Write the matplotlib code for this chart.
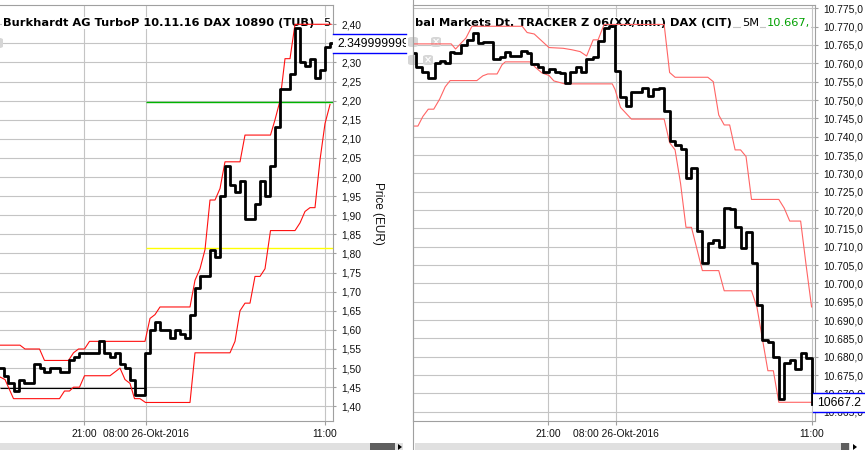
import matplotlib
matplotlib.use("Agg")
import matplotlib.pyplot as plt
from matplotlib.patches import Rectangle, FancyBboxPatch, Polygon
from matplotlib.lines import Line2D

# x axis: 5-minute bars, 0 = 08:00 on 26 Oct 2016
time_ticks = [-12.2, 0.2, 36.0]
time_labels = ["21:00", "08:00 26-Okt-2016", "11:00"]

# left chart: turbo certificate (EUR)
tub_t = [-30, -28.3, -27.5, -26.3, -25.3, -24.3, -22.2, -21.1, -20.2, -19.1,
         -17.1, -15.2, -14.3, -13.3, -9.2, -8.2, -7.0, -6.0, -5.1, -4.1,
         -3.1, -2.0, 0, 1, 2, 3, 5, 6, 7, 8,
         9, 10, 11, 13, 14, 15, 16, 17, 18, 19,
         20, 22, 23, 24, 25, 26, 27, 29, 30, 31,
         32, 33, 34, 35, 36, 37, 37.2]
tub_price = [1.50, 1.48, 1.46, 1.44, 1.47, 1.46, 1.51, 1.50, 1.49, 1.50,
             1.49, 1.52, 1.53, 1.54, 1.57, 1.54, 1.53, 1.54, 1.51, 1.50,
             1.47, 1.43, 1.54, 1.60, 1.62, 1.60, 1.58, 1.60, 1.59, 1.58,
             1.64, 1.71, 1.74, 1.81, 1.79, 1.95, 2.03, 1.98, 1.96, 1.99,
             1.89, 1.93, 1.99, 1.95, 2.03, 2.13, 2.23, 2.27, 2.39, 2.30,
             2.29, 2.31, 2.26, 2.28, 2.34, 2.35, 2.35]
tub_hi_t = [-29.5, -25, -24, -21.1, -20.1, -15.3, -14.3, -13.3, -12.1, -11.1,
            0, 1, 2, 3, 9, 10, 11, 12, 13, 14, 15, 16, 19, 20, 25.1, 26, 27,
            28, 29, 30, 37.2]
tub_hi = [1.56, 1.56, 1.55, 1.55, 1.52, 1.52, 1.54, 1.55, 1.55, 1.57,
          1.57, 1.63, 1.64, 1.66, 1.66, 1.73, 1.76, 1.81, 1.94, 1.94, 1.97,
          2.04, 2.04, 2.11, 2.11, 2.15, 2.20, 2.31, 2.31, 2.40, 2.40]
tub_lo_t = [-29.5, -28, -26.3, -17.1, -16.1, -15.1, -14.3, -13.1, -12.1, -7,
            -5, -4, -3, -2.1, -1, 0.1, 9, 10, 17, 18, 19, 20, 21, 22, 23, 24,
            25.1, 30, 31, 32, 33, 34, 35, 36, 37]
tub_lo = [1.48, 1.47, 1.42, 1.42, 1.44, 1.44, 1.45, 1.45, 1.48, 1.48,
          1.50, 1.47, 1.46, 1.42, 1.42, 1.41, 1.41, 1.54, 1.54, 1.57, 1.65,
          1.67, 1.67, 1.74, 1.74, 1.76, 1.86, 1.86, 1.88, 1.91, 1.92, 1.92,
          2.045, 2.14, 2.19]
tub_prev_close = 1.449
tub_green = 2.197
tub_yellow = 1.814
tub_last = "2.349999999"
tub_yticks = [round(1.40 + 0.05 * i, 2) for i in range(21)]

# right chart: DAX index (points)
dax_t = [-37.5, -36.5, -35.3, -34.2, -33.0, -32.1, -31.2, -30.3, -29.4, -28.2,
         -27.2, -26.0, -25.1, -24.2, -22.3, -21.1, -20.2, -19.3, -17.2, -16.2,
         -15.3, -14.1, -13.2, -12.0, -11.0, -10.1, -9.2, -8.2, -7.2, -6.2,
         -5.3, -4.0, -3.1, -2.1, -1.1, 0, 1, 2, 3, 5,
         6, 7, 8, 9, 10, 11, 12, 13, 14, 15,
         16, 17, 18, 19, 20, 21, 22, 23, 24, 25,
         26, 27, 28, 29, 30, 31, 32, 33, 34, 35, 36]
dax_price = [10762.8, 10759.1, 10757.7, 10756.1, 10760.0, 10760.7, 10760.0, 10763.2, 10762.8, 10765.0,
             10766.4, 10768.4, 10765.5, 10765.9, 10761.1, 10761.7, 10763.2, 10762.1, 10763.4, 10762.8,
             10759.8, 10758.9, 10757.5, 10758.5, 10757.7, 10757.3, 10754.6, 10757.5, 10759.1, 10757.7,
             10761.1, 10761.7, 10766.2, 10769.6, 10770.3, 10757.9, 10750.7, 10748.4, 10752.1, 10753.4,
             10751.2, 10753.0, 10753.4, 10747.0, 10738.9, 10737.7, 10736.6, 10728.8, 10731.6, 10714.4,
             10705.6, 10711.1, 10711.8, 10710.0, 10720.5, 10720.3, 10715.5, 10709.7, 10714.1, 10705.6,
             10694.1, 10684.6, 10684.1, 10680.0, 10668.5, 10678.2, 10679.1, 10676.6, 10681.1, 10679.6,
             10667.2]
dax_hi_t = [-37.0, -30.0, -29.2, -28.2, -27.3, -26.2, -17.0, -16.1, -14.8, -12.1,
            -9.5, -7.9, -6.4, -5.2, -4.0, -3.1, -2.0, 9, 10, 11, 17, 18, 19,
            20, 21, 22, 23, 24, 25, 30, 31, 32, 34, 35, 36]
dax_hi = [10765.3, 10765.3, 10763.9, 10765.5, 10766.9, 10770.1, 10770.1, 10768.4, 10768.0, 10764.3,
          10764.1, 10763.7, 10763.2, 10762.0, 10766.4, 10766.4, 10770.6, 10770.6, 10757.5, 10756.2,
          10756.2, 10755.0, 10745.9, 10743.2, 10743.2, 10736.4, 10736.4, 10734.6, 10722.9, 10722.9,
          10720.5, 10717.0, 10717.0, 10705.0, 10693.6]
dax_lo_t = [-37.0, -36.1, -35.2, -34.2, -33.2, -32.1, -31.1, -30.2, -25.3, -24.2,
            -23.3, -21.6, -20.7, -20.1, -15.6, -14.5, -13.4, -12.1, -11.2, -9.2,
            -0.5, 0, 1, 3, 9, 10, 11, 12, 13, 14, 16, 19, 20, 25, 26, 28, 29, 30, 36]
dax_lo = [10742.9, 10742.9, 10745.5, 10747.5, 10747.5, 10750.3, 10753.6, 10755.3, 10755.3, 10756.6,
          10757.1, 10757.1, 10759.6, 10760.4, 10760.4, 10758.8, 10757.4, 10756.7, 10755.2, 10754.4,
          10754.4, 10752.9, 10748.0, 10744.8, 10744.8, 10738.4, 10736.4, 10727.3, 10715.3, 10715.3,
          10703.5, 10703.5, 10698.0, 10698.0, 10693.5, 10676.2, 10676.2, 10667.6, 10667.6]
dax_last = "10667.2"
dax_yticks = [10665 + 5 * i for i in range(23)]

W, H = 865, 450
GRID = "#c4c4c4"
SPINE = "#a0a0a0"
plt.rcParams["font.family"] = ["Liberation Sans", "DejaVu Sans"]

fig = plt.figure(figsize=(W / 100, H / 100), dpi=100)


def fig_x(px):
    return px / W


def fig_y(py):
    return 1 - py / H


def panel(x0, x1, xlim, ylim, yticks, labels):
    ax = fig.add_axes([fig_x(x0), fig_y(421), (x1 - x0) / W, 416 / H])
    ax.set_xlim(*xlim)
    ax.set_ylim(*ylim)
    ax.set_xticks(time_ticks, time_labels)
    ax.set_yticks(yticks, labels)
    ax.yaxis.tick_right()
    ax.tick_params(colors=SPINE, labelcolor="#111111", labelsize=7.4, width=0.8)
    ax.tick_params(axis="y", length=2.5, pad=3.5)
    ax.tick_params(axis="x", length=3, pad=2.5)
    ax.grid(True, color=GRID, lw=0.8)
    ax.set_axisbelow(True)
    for s in ax.spines.values():
        s.set_color(SPINE)
        s.set_linewidth(0.8)
    return ax


def title(ax, px, s, bold=True, color="black"):
    ax.text(fig_x(px), fig_y(26), s, transform=fig.transFigure, family="DejaVu Sans",
            fontsize=8.2, fontweight="bold" if bold else "normal", color=color,
            va="baseline", zorder=1.5,
            bbox=dict(facecolor="white", edgecolor="none", pad=0.6))


def value_box(x0, x1, y0, y1, s):
    bx = fig.add_axes([fig_x(x0), fig_y(y1), (x1 - x0) / W, (y1 - y0) / H])
    bx.set_xticks([])
    bx.set_yticks([])
    bx.set_facecolor("white")
    bx.spines["left"].set_visible(False)
    bx.spines["right"].set_visible(False)
    for k in ("top", "bottom"):
        bx.spines[k].set_color("#0000ff")
        bx.spines[k].set_linewidth(1.0)
    bx.text(4 / (x1 - x0), 0.45, s, transform=bx.transAxes, fontsize=8.8,
            va="center", ha="left", clip_on=True)


def icon(ax, px, py, w=10, mark=True):
    ax.add_patch(FancyBboxPatch((fig_x(px), fig_y(py + w)), w / W, w / H,
                                boxstyle="round,pad=0,rounding_size=0.004",
                                transform=fig.transFigure, facecolor="#d6d6d6",
                                edgecolor="none", zorder=1.4, clip_on=False))
    if mark:
        ax.text(fig_x(px + w / 2), fig_y(py + w / 2), "×", transform=fig.transFigure,
                ha="center", va="center", fontsize=7, color="white", zorder=1.45,
                fontweight="bold", family="DejaVu Sans")


# ---- left panel (2,35 label sits under the value box)
tub_labels = [f"{v:.2f}".replace(".", ",") for v in tub_yticks]
tub_labels[tub_yticks.index(2.35)] = ""
ax1 = panel(0, 333, (-29.0, 37.6), (1.3615, 2.4505), tub_yticks, tub_labels)
ax1.spines["left"].set_visible(False)
ax1.hlines(tub_prev_close, -29.0, 0.1, color="black", lw=0.8, zorder=1.6)
ax1.hlines(tub_green, 0.2, 37.6, color="#00b400", lw=1.0, zorder=1.6)
ax1.hlines(tub_yellow, 0.2, 37.6, color="#ffff00", lw=1.0, zorder=1.6)
ax1.plot(tub_hi_t, tub_hi, color="#ff1010", lw=0.8, zorder=2)
ax1.plot(tub_lo_t, tub_lo, color="#ff1010", lw=0.8, zorder=2)
ax1.step(tub_t, tub_price, where="post", color="black", lw=2.0, zorder=3)
title(ax1, 3, "Burkhardt AG TurboP 10.11.16 DAX 10890 (TUB)")
title(ax1, 323, "5", bold=False)
icon(ax1, -7, 38, mark=False)
fig.text(fig_x(378), fig_y(213), "Price (EUR)", rotation=270, ha="center",
         va="center", fontsize=8.5, color="#111111")

# ---- right panel
ax2 = panel(413, 815, (-37.0, 36.63), (10662.5, 10775.9), dax_yticks,
            [f"{v:,.1f}".replace(",", "#").replace(".", ",").replace("#", ".")[:8]
             for v in dax_yticks])
ax2.plot(dax_hi_t, dax_hi, color="#ff6464", lw=0.8, zorder=2)
ax2.plot(dax_lo_t, dax_lo, color="#ff6464", lw=0.8, zorder=2)
ax2.step(dax_t, dax_price, where="post", color="black", lw=2.0, zorder=3)
title(ax2, 415, "bal Markets Dt. TRACKER Z 06(XX/unl.) DAX (CIT)")
title(ax2, 742, "5M", bold=False)
title(ax2, 767, "10.667,", bold=False, color="#00a000")
icon(ax2, 408, 37, mark=False)
icon(ax2, 431, 37)
icon(ax2, 408, 55, mark=False)
icon(ax2, 423, 55)

# ---- current value boxes
value_box(333, 406, 34, 53, tub_last)
value_box(813, 880, 393, 412, dax_last)

# ---- frame bits and scrollbars
fig.add_artist(Line2D([fig_x(413)] * 2, [0, 1], color=SPINE, lw=0.8))
for x0, x1, t0, t1, a0 in [(0, 403, 370, 395, 398), (415, 850, 841, 849, 853)]:
    fig.add_artist(Rectangle((fig_x(x0), 0), (x1 - x0) / W, 7 / H,
                             transform=fig.transFigure, facecolor="#e0e0e0", edgecolor="none"))
    fig.add_artist(Rectangle((fig_x(t0), 0), (t1 - t0) / W, 7 / H,
                             transform=fig.transFigure, facecolor="#5f5f5f", edgecolor="none"))
    fig.add_artist(Polygon([(fig_x(a0), fig_y(444)), (fig_x(a0), fig_y(450)),
                            (fig_x(a0 + 4), fig_y(447))], closed=True,
                           transform=fig.transFigure, facecolor="black", edgecolor="none"))

fig.savefig("out.png", dpi=100)
